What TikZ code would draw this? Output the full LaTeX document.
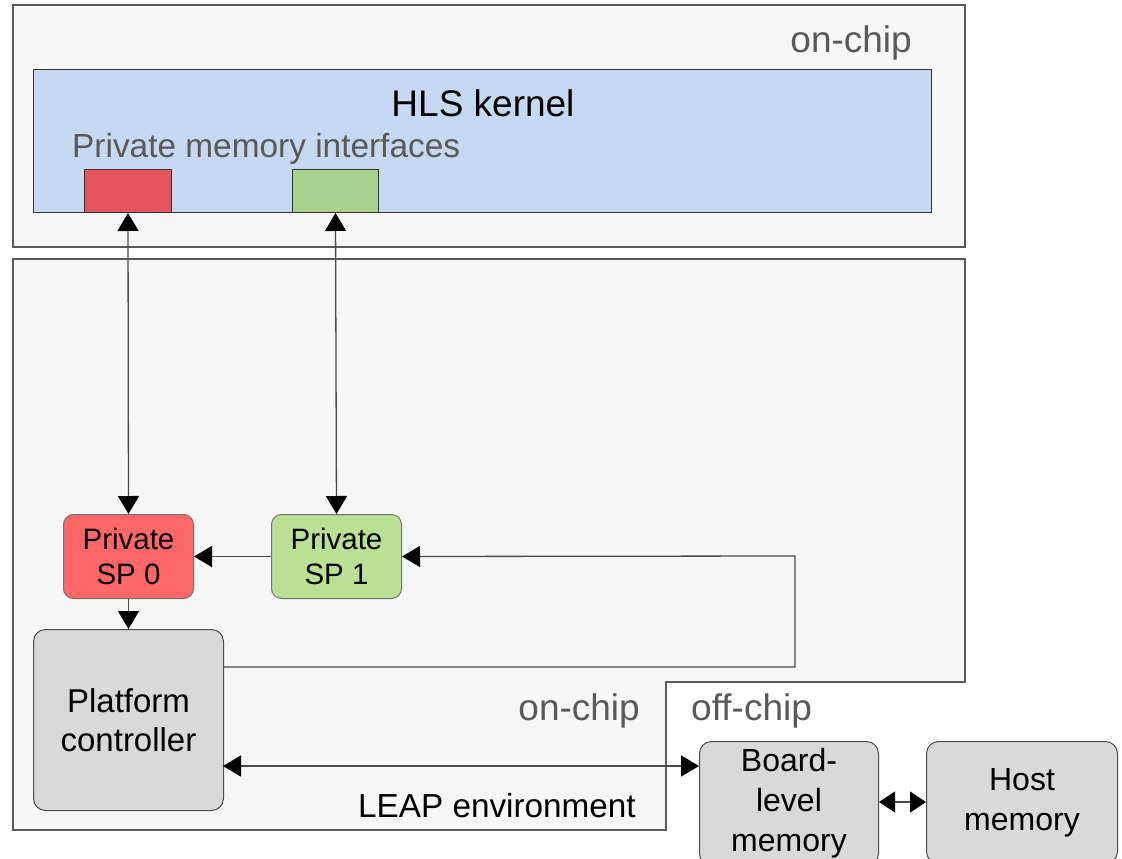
\documentclass[tikz,border=0pt]{standalone}
\usepackage{fontspec}
\setmainfont{Liberation Sans}
\usetikzlibrary{arrows.meta}
\definecolor{panelbg}{HTML}{F7F7F7}
\definecolor{panelline}{HTML}{5A5A5A}
\definecolor{kernelblue}{HTML}{C6D9F0}
\definecolor{ifred}{HTML}{E5555F}
\definecolor{ifgreen}{HTML}{A9D18E}
\definecolor{spred}{HTML}{FF6666}
\definecolor{spgreen}{HTML}{B9E093}
\definecolor{boxgray}{HTML}{D9D9D9}
\definecolor{labelgray}{HTML}{595959}
\definecolor{wire}{HTML}{4A4A4A}
\tikzset{
  panel/.style={draw=panelline, fill=panelbg, line width=1.2pt},
  iface/.style={draw=black!80, line width=1pt, inner sep=0pt},
  spbox/.style={draw=black!55, line width=1pt, rounded corners=10pt, inner sep=0pt,
    minimum width=130pt, minimum height=84pt, align=center,
    font=\fontsize{29.5}{35}\selectfont},
  graybox/.style={draw=black!70, fill=boxgray, line width=1pt, rounded corners=12pt,
    inner sep=0pt, align=center},
  region/.style={text=labelgray, font=\fontsize{37}{44}\selectfont, inner sep=0pt},
  wireline/.style={draw=wire, line width=1.3pt},
  tip/.style={-{Triangle[length=18pt,width=21pt,color=black]}},
  bothtips/.style={{Triangle[length=18pt,width=21pt,color=black]}-{Triangle[length=18pt,width=21pt,color=black]}},
}
\begin{document}
\begin{tikzpicture}[x=1pt,y=-1pt]
\clip (0,0) rectangle (1122,859);
\fill[white] (0,0) rectangle (1122,859);

% upper on-chip region with the HLS kernel
\draw[panel] (13,5) rectangle (965,247);
\node[region, anchor=base east] (onchipA) at (912,53) {on-chip};
\node[draw=black!80, fill=kernelblue, line width=1pt, inner sep=0pt,
      minimum width=898pt, minimum height=143pt, anchor=north west] (kernel) at (33,69) {};
\node[font=\fontsize{37}{44}\selectfont, inner sep=0pt] (kname) at (483,103) {HLS kernel};
\node[anchor=base west, text=labelgray, font=\fontsize{33.4}{40}\selectfont, inner sep=0pt]
  (ifaces) at (72,157) {Private memory interfaces};
\node[iface, fill=ifred, minimum width=87pt, minimum height=43pt, anchor=north west] (if0) at (84,169) {};
\node[iface, fill=ifgreen, minimum width=86pt, minimum height=43pt, anchor=north west] (if1) at (292,169) {};

% lower region: LEAP environment (on-chip part with notch)
\draw[panel] (13,259) -- (965,259) -- (965,682) -- (666,682) -- (666,830) -- (13,830) -- cycle;
\node[region, anchor=base east] (onchipB) at (640,720) {on-chip};
\node[region, anchor=base west] (offchip) at (691,720) {off-chip};
\node[anchor=base east, font=\fontsize{33.3}{40}\selectfont, inner sep=0pt] (leap) at (636,817) {LEAP environment};

% scratchpads
\node[spbox, fill=spred, anchor=north west] (sp0) at (63,514) {Private\\SP 0};
\node[spbox, fill=spgreen, anchor=north west] (sp1) at (271,514) {Private\\SP 1};

% platform controller and memories
\node[graybox, minimum width=190pt, minimum height=181pt, anchor=north west,
      font=\fontsize{33}{39}\selectfont] (pc) at (33,629) {Platform\\controller};
\node[graybox, minimum width=179pt, minimum height=124pt, anchor=north west,
      font=\fontsize{32}{40}\selectfont] (board) at (699,741) {Board-\\level\\memory};
\node[graybox, minimum width=191pt, minimum height=122pt, anchor=north west,
      font=\fontsize{32}{40}\selectfont] (host) at (926,741) {Host\\memory};

% connectors
\draw[wireline, bothtips] (if0.south) -- (sp0.north);
\draw[wireline, bothtips] (if1.south) -- (sp1.north);
\draw[wireline, tip] (sp1.west) -- (sp0.east);
\draw[wireline, tip] (sp0.south) -- (pc.north -| sp0.south);
\coordinate (loopA) at (795,667);
\coordinate (loopB) at (795,556);
\draw[wireline, tip] (pc.east |- loopA) -- (loopA) -- (loopB) -- (sp1.east);
\coordinate (busL) at (223,766);
\draw[wireline, bothtips] (busL) -- (board.west |- busL);
\coordinate (hostbus) at (878,802);
\draw[wireline, {Triangle[length=16pt,width=21pt,color=black]}-{Triangle[length=16pt,width=21pt,color=black]}]
  (board.east |- hostbus) -- (host.west |- hostbus);
\end{tikzpicture}
\end{document}
